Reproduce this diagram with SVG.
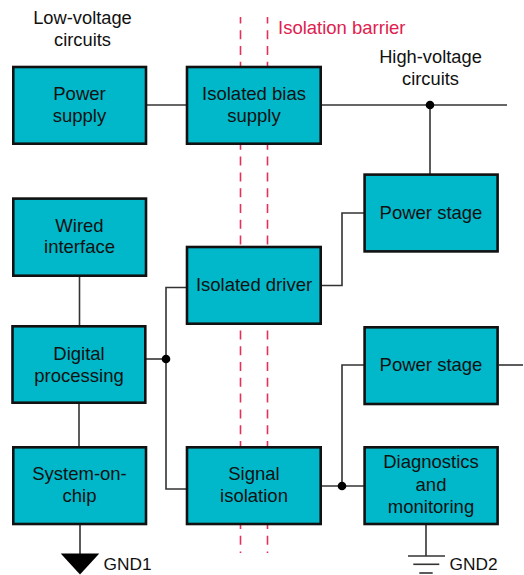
<svg xmlns="http://www.w3.org/2000/svg" width="524" height="575" viewBox="0 0 524 575">
<style>
.box{fill:#00b8c9;stroke:#111;stroke-width:2.6}
.t{font-family:"Liberation Sans",Arial,sans-serif;font-size:18.5px;fill:#111;text-anchor:middle}
.lbl{font-family:"Liberation Sans",Arial,sans-serif;font-size:18.3px;fill:#111;text-anchor:middle}
.gnd{font-family:"Liberation Sans",Arial,sans-serif;font-size:17.3px;fill:#111}
.bar{stroke:#e6305a;stroke-width:1.6;stroke-dasharray:9 6.8;stroke-dashoffset:2.6;fill:none}
.w{stroke:#333;stroke-width:1.6;fill:none}
.dot{fill:#000}
</style>
<rect width="524" height="575" fill="#fff"/>
<g id="barrier">
<line class="bar" x1="240.5" y1="17" x2="240.5" y2="553"/>
<line class="bar" x1="267.5" y1="17" x2="267.5" y2="553"/>
<text x="278" y="34" style="font-family:'Liberation Sans',Arial,sans-serif;font-size:18.5px;fill:#e0204f">Isolation barrier</text>
</g>
<g id="labels">
<text class="lbl" x="82.5" y="24">Low-voltage</text>
<text class="lbl" x="82.5" y="46">circuits</text>
<text class="lbl" x="430.5" y="63">High-voltage</text>
<text class="lbl" x="430.5" y="85">circuits</text>
</g>
<g id="connectors">
<polyline class="w" points="147,105 186,105"/>
<polyline class="w" points="322,105 507,105"/>
<polyline class="w" points="430,105 430,174"/>
<polyline class="w" points="322,285.5 342,285.5 342,213 364,213"/>
<polyline class="w" points="186,287.5 166,287.5 166,489 186,489"/>
<polyline class="w" points="146,359 166,359"/>
<polyline class="w" points="79.5,277 79.5,325"/>
<polyline class="w" points="79,404 79,446"/>
<polyline class="w" points="80,525 80,554"/>
<polyline class="w" points="322,486 364,486"/>
<polyline class="w" points="342,486 342,365 364,365"/>
<polyline class="w" points="499,365 523,365"/>
<polyline class="w" points="426,525 426,556"/>
<circle class="dot" cx="430" cy="105" r="4.3"/>
<circle class="dot" cx="166" cy="359" r="4.3"/>
<circle class="dot" cx="342" cy="486" r="4.3"/>
</g>
<g id="power-supply">
<rect class="box" x="13.3" y="67" width="132.7" height="76.7"/>
<text class="t" x="79.5" y="100">Power</text>
<text class="t" x="79.5" y="122">supply</text>
</g>
<g id="isolated-bias-supply">
<rect class="box" x="187" y="67" width="133.7" height="76.7"/>
<text class="t" x="254" y="100">Isolated bias</text>
<text class="t" x="254" y="122">supply</text>
</g>
<g id="power-stage-1">
<rect class="box" x="364.6" y="174.6" width="133" height="76.8"/>
<text class="t" x="431" y="219.3">Power stage</text>
</g>
<g id="wired-interface">
<rect class="box" x="13.3" y="198.6" width="132.7" height="77.1"/>
<text class="t" x="79.5" y="231.7">Wired</text>
<text class="t" x="79.5" y="253.3">interface</text>
</g>
<g id="isolated-driver">
<rect class="box" x="187" y="247" width="133.7" height="76.7"/>
<text class="t" x="254" y="291">Isolated driver</text>
</g>
<g id="digital-processing">
<rect class="box" x="12.5" y="326.3" width="132.8" height="76.4"/>
<text class="t" x="79" y="360">Digital</text>
<text class="t" x="79" y="382">processing</text>
</g>
<g id="power-stage-2">
<rect class="box" x="364.6" y="327.3" width="133" height="76.7"/>
<text class="t" x="431" y="371">Power stage</text>
</g>
<g id="system-on-chip">
<rect class="box" x="13.3" y="447.3" width="132.7" height="76.7"/>
<text class="t" x="79.5" y="480">System-on-</text>
<text class="t" x="79.5" y="502">chip</text>
</g>
<g id="signal-isolation">
<rect class="box" x="187" y="447.3" width="133.7" height="76.7"/>
<text class="t" x="254" y="480">Signal</text>
<text class="t" x="254" y="502">isolation</text>
</g>
<g id="diagnostics-monitoring">
<rect class="box" x="364.6" y="447.3" width="133" height="76.7"/>
<text class="t" x="431" y="468.3">Diagnostics</text>
<text class="t" x="431" y="490.7">and</text>
<text class="t" x="431" y="513.3">monitoring</text>
</g>
<g id="gnd1">
<polygon points="60.7,553.5 99.3,553.5 80,574.5" fill="#000"/>
<text class="gnd" x="103.5" y="569.5">GND1</text>
</g>
<g id="gnd2">
<line class="w" x1="408" y1="556" x2="445" y2="556"/>
<line class="w" x1="413.3" y1="564.3" x2="439.3" y2="564.3"/>
<line class="w" x1="419.3" y1="573" x2="432.7" y2="573"/>
<text class="gnd" x="449.5" y="569.5">GND2</text>
</g>
</svg>
